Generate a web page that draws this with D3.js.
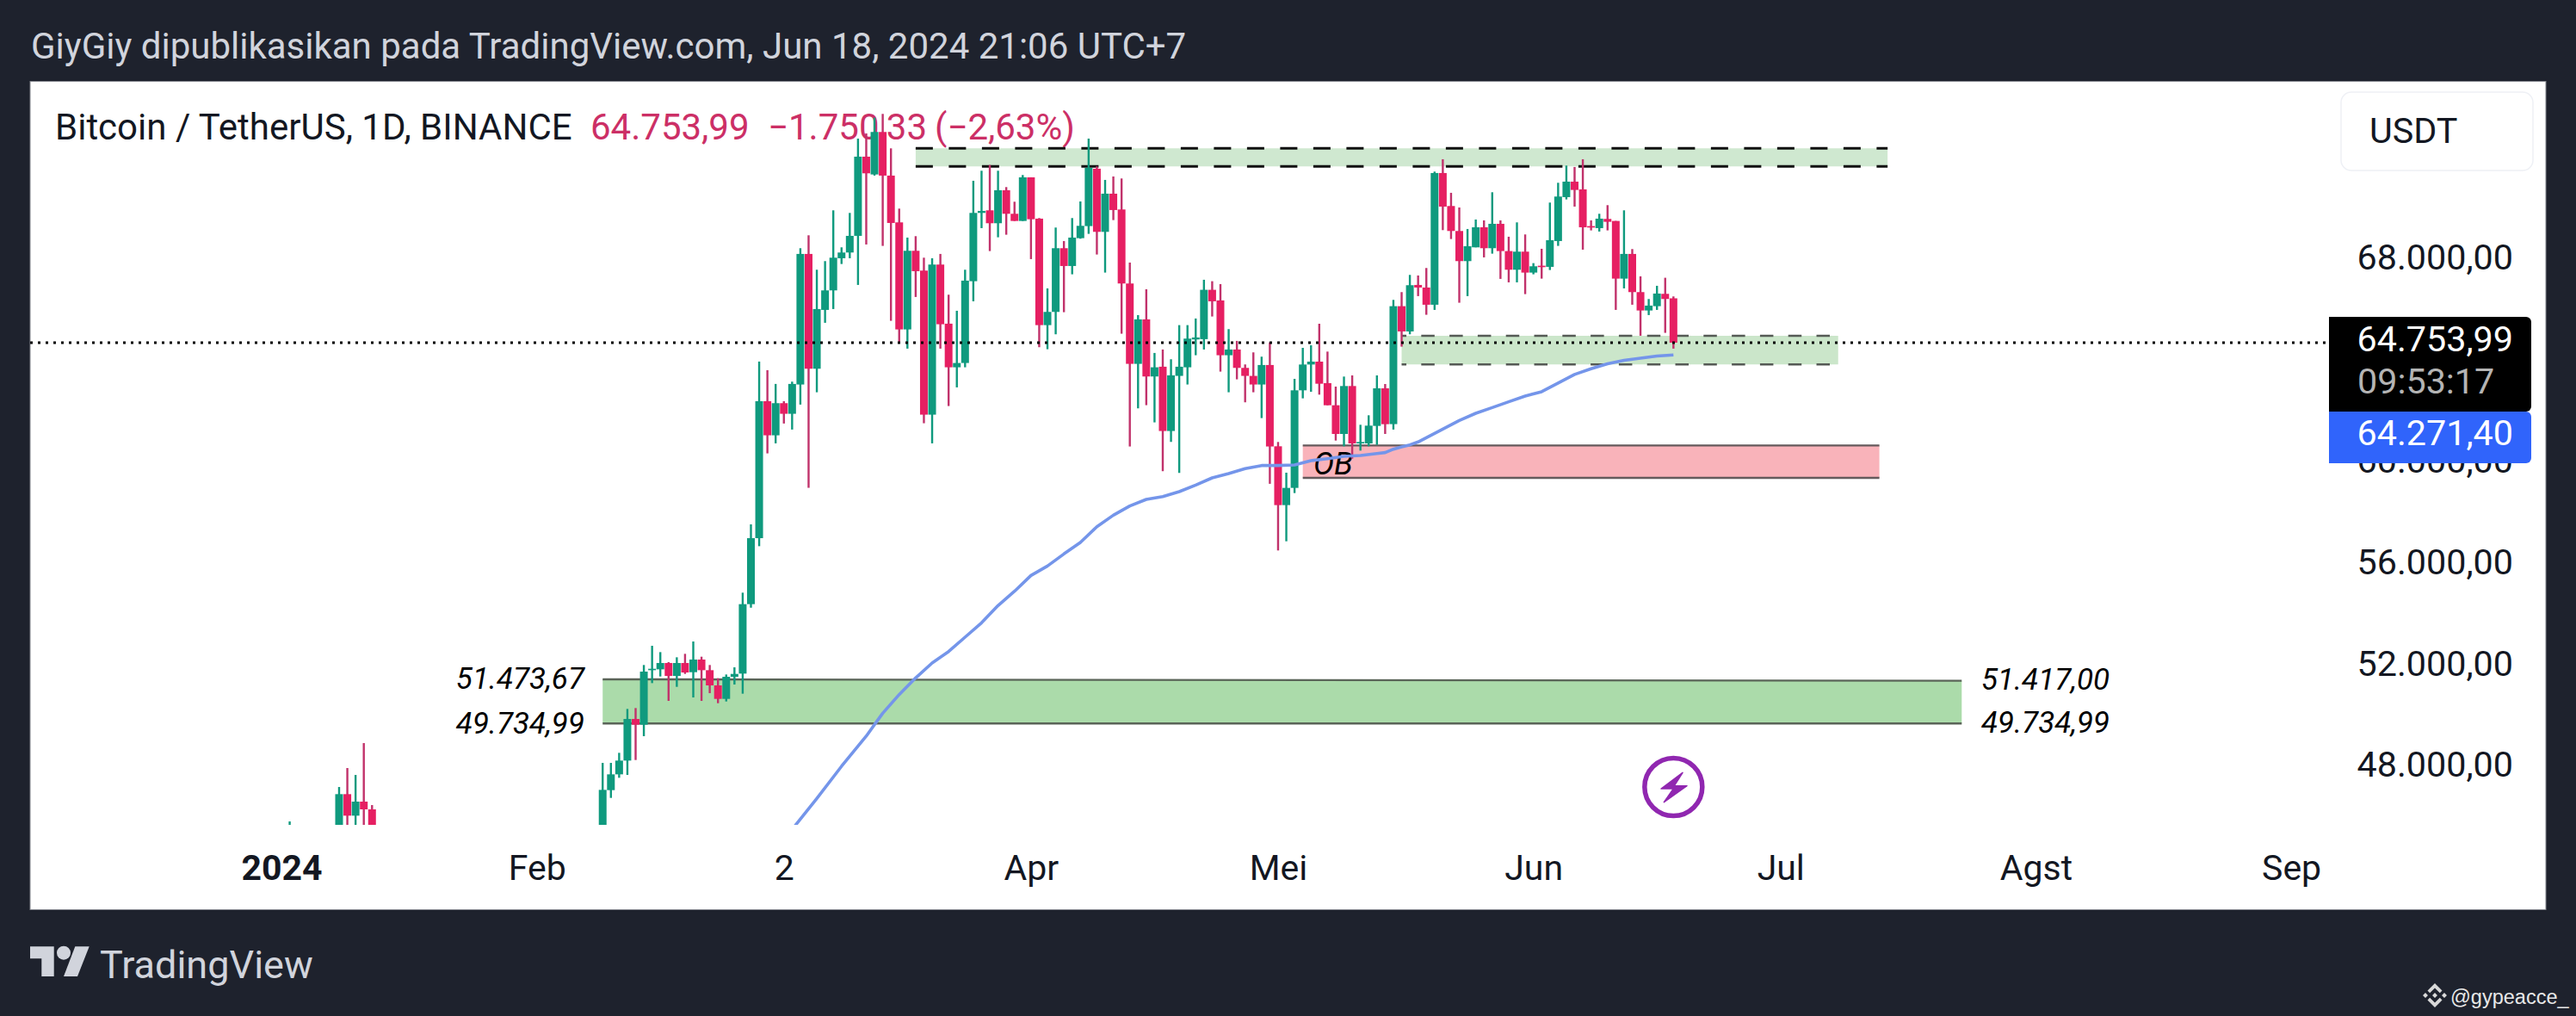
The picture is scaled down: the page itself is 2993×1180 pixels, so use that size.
<!DOCTYPE html>
<html>
<head>
<meta charset="utf-8">
<style>
  html, body { margin: 0; padding: 0; background: #1e222d; overflow: hidden; }
  svg { display: block; font-family: Roboto, sans-serif; }
</style>
<script src="https://cdn.jsdelivr.net/npm/d3@7"></script>
</head>
<body>
<div class="container"></div>
<script>
// daily bars: Jan 2, Jan 8-12, then Feb 9 to Jun 18 2024 (the rest of Jan/Feb is below the visible range)
const utc = d3.utcParse("%Y-%m-%d");
const dates = [utc("2024-01-02")].concat(
  d3.utcDays(utc("2024-01-08"), utc("2024-01-13")),
  d3.utcDays(utc("2024-02-09"), utc("2024-06-19"))
);

const opens = [44200,
  43900,46945,46096,46650,46345,
  45300,47103,47726,48269,49910,49684,51835,51869,52118,51608,52118,51756,52254,51835,51235,50703,51574,51700,54440,57043,62447,
  61100,62368,61949,63104,68255,63727,66047,66817,68085,68311,68968,72092,71390,73066,71345,69500,65277,68379,67598,61915,67836,65504,63783,63953,67179,69873,69975,69466,70768,69839,69556,
  71277,69647,65447,65968,68481,67779,68877,69353,71617,69126,70632,70009,67089,63919,65674,63421,63806,61270,63444,63783,64881,64893,66840,66421,64259,64485,63760,63444,63104,63874,
  60667,58347,59026,62875,63893,64007,63158,62286,61154,63044,60780,60780,61471,62954,61542,66194,65198,67032,66930,66251,71447,70145,69160,67972,68515,69307,68481,69443,68368,67632,68345,
  67519,67790,67745,68764,70496,71107,70802,69353,69273,69636,69556,67281,68255,66749,66024,66194,66681,66504
];
const highs = [45869,
  47227,47975,47703,48959,46514,
  48178,48178,48575,50307,50341,52039,52797,52548,52152,52344,52480,52967,52367,52039,51518,51665,51948,54893,57587,64010,
  63670,63127,62447,63217,68481,68990,67632,67972,69975,68515,69873,72805,73009,73632,73779,72420,70043,68900,68956,68107,68085,68255,66647,66013,67632,71141,71537,71764,71537,70892,70315,71368,
  71277,69670,66896,69296,68764,69670,70326,72805,71707,71175,71311,71232,67915,65843,66862,64349,64485,64100,65447,65447,65708,67236,67179,67066,65289,64825,63896,64372,64202,64768,
  60837,59626,63327,64550,64652,65501,64403,63022,63418,63463,61516,61890,63463,63124,66443,66749,67428,67405,67700,71503,71990,70666,70088,69239,69613,69579,70688,69579,68934,69500,69024,
  67892,68458,70281,71062,71741,71685,71990,69579,69839,70179,69556,69975,68447,67372,66477,66998,67315,66579
];
const lows = [44100,
  43200,44300,44300,45600,41500,
  45200,46797,47590,47703,48292,49231,51325,51586,50624,51178,51688,50759,50624,50929,50533,50601,51269,50908,54300,56726,
  60387,60783,61565,61327,62312,59029,62798,65538,66081,67858,68085,67032,68628,71345,68572,65617,64745,64519,66557,61576,60783,64519,62255,62991,63783,66387,69273,68368,68911,69013,69556,69556,
  68051,64576,64496,65085,65957,67451,68855,69047,68232,67519,69590,65108,60659,62164,62289,61610,59685,60840,59617,63104,64259,64485,65787,63613,62798,63308,62402,62798,61780,59187,
  56558,56920,58822,62558,62818,62705,62286,60893,60667,60180,60497,60667,60724,61154,61327,64598,65085,66591,65855,66047,69194,68843,66330,66591,68515,68119,68266,67270,67134,67134,66670,
  67451,67281,67621,68572,70405,70122,68424,69183,69138,69183,66047,66896,66251,65028,65843,66047,65142,64519
];
const closes = [45000,
  46945,46096,46650,46345,42800,
  47114,47726,48269,49910,49684,51778,51891,52118,51608,52118,51744,52254,51835,51235,50703,51574,51688,54440,57043,62447,
  61100,62368,61949,63127,68255,63727,66081,66817,68107,68311,68968,72092,71435,73066,71345,69477,65277,68379,67575,61915,67836,65481,63783,63953,67202,69873,69953,69466,70768,69839,69556,71277,
  69624,65447,65968,68481,67779,68900,69364,71651,69126,70632,69987,67089,63919,65674,63421,63783,61270,63466,63806,64915,64960,66840,66387,64259,64485,63760,63444,63104,63874,60659,
  58347,59026,62875,63893,64007,63135,62286,61154,63044,60780,60837,61482,62954,61539,66194,65198,67021,66930,66251,71447,70122,69160,67972,68560,69307,68481,69443,68368,67632,68345,67519,
  67768,67734,68798,70519,71107,70779,69307,69296,69647,69522,67281,68255,66749,66024,66217,66692,66477,64753.99
];

// moving average, read every couple of days: day number counted from Jan 1
const maDays = [62,65,68,71,73,75,77,79,81,83,85,87,89,91,93,95,97,99,101,103,105,107,109,111,113,115,117,119,121,123,125,127,129,131,133,134,135,136,137,138,139,141,143,145,147,149,151,153,155,157,159,161,163,165,167,169];
const maValues = [45553,46776,48044,49233,50138,50874,51530,52119,52572,53138,53704,54383,54949,55572,55945,56421,56874,57496,57949,58311,58573,58686,58879,59139,59422,59592,59784,59909,59909,59931,60101,60180,60271,60305,60384,60418,60554,60644,60724,60837,61007,61346,61686,61969,62195,62422,62648,62821,63160,63500,63726,63919,64055,64145,64225,64271.4];

// price zones
const zoneStarts = ["2024-02-09", "2024-03-18", "2024-05-16", "2024-05-04"];
const zoneEnds = ["2024-07-23", "2024-07-14", "2024-07-08", "2024-07-13"];
const zoneTops = [51473.67, 72420, 65028, 60701];
const zoneTopEnds = [51417, 72420, 65028, 60701];
const zoneBottoms = [49734.99, 71707, 63896, 59422];
const zoneFills = ["#abdbaa", "#cfe8d0", "#cbe6ca", "#f9b3ba"];
const zoneLines = ["#5a6458", "#111111", "#555a55", "#655a5c"];
const zoneDashes = [null, "20 18.5", "15.5 17.3", null];
const zoneDashOffsets = [0, 0, 10, 0];
const zoneLineWidths = [2.4, 3, 2.6, 2.4];

// 64.000,00 sits behind the black price tag in the picture, so it is not listed
const priceTicks = [48000, 52000, 56000, 60000, 68000];
const priceFormat = (v) => d3.format(",.2f")(v).replace(/,/g, "#").replace(".", ",").replace(/#/g, ".");

const timeTicks = ["2024-01-01", "2024-02-01", "2024-03-02", "2024-04-01", "2024-05-01", "2024-06-01", "2024-07-01", "2024-08-01", "2024-09-01"];
const timeLabels = ["2024", "Feb", "2", "Apr", "Mei", "Jun", "Jul", "Agst", "Sep"];

const lastPrice = 64753.99;
const maLast = 64271.4;

const width = 2993;
const height = 1180;
const textDark = "#131722";
const textLight = "#d1d4dc";
const upColor = "#0f9a7e";
const downColor = "#e61f62";
const downWick = "#c1326b";
const legendRed = "#cc2f66";

const svg = d3.create("svg").attr("width", width).attr("height", height);
const defs = svg.append("defs");
defs.append("clipPath").attr("id", "plot").append("rect")
  .attr("x", 35).attr("y", 94).attr("width", 2668).attr("height", 864);

svg.append("rect").attr("width", width).attr("height", height).attr("fill", "#1e222d");
svg.append("rect").attr("x", 35).attr("y", 94.5).attr("width", 2923).attr("height", 962)
  .attr("fill", "#fff").attr("stroke", "#83868d").attr("stroke-width", 1);

const x = d3.scaleUtc().domain([utc("2024-01-01"), utc("2024-09-01")]).range([327, 327 + 9.57 * 244]);
const y = d3.scaleLinear().domain([51473.67, lastPrice]).range([789, 398]);

// header and footer
svg.append("text").attr("x", 36).attr("y", 68).attr("fill", textLight)
  .attr("font-size", 42).text("GiyGiy dipublikasikan pada TradingView.com, Jun 18, 2024 21:06 UTC+7");

const logo = svg.append("g").attr("fill", textLight);
logo.append("path").attr("d", "M35 1099.3H62.7V1134H48.3V1113.3H35Z");
logo.append("circle").attr("cx", 74).attr("cy", 1106.7).attr("r", 8);
logo.append("path").attr("d", "M87.3 1099.3H103.7L90 1134H74Z");
svg.append("text").attr("x", 116).attr("y", 1135.5).attr("fill", textLight)
  .attr("font-size", 45).text("TradingView");

const binance = svg.append("g").attr("fill", "#d9d9d9").attr("transform", "translate(2829,1156)");
binance.append("path").attr("d", "M-3 0L0 -3L3 0L0 3ZM-14 0L-11 -3L-8 0L-11 3ZM8 0L11 -3L14 0L11 3Z");
binance.append("path").attr("d", "M0 -14L8.5 -5.5L5.8 -2.8L0 -8.6L-5.8 -2.8L-8.5 -5.5ZM0 14L8.5 5.5L5.8 2.8L0 8.6L-5.8 2.8L-8.5 5.5Z");
svg.append("text").attr("x", 2847).attr("y", 1166).attr("fill", "#e8e8e8")
  .attr("font-family", "'Liberation Sans', sans-serif").attr("font-size", 23.5).text("@gypeacce_");

// legend goes under the candles, one wick runs through it in the picture
const legendFont = 42;
svg.append("text").attr("x", 64).attr("y", 162).attr("fill", textDark).attr("font-size", legendFont)
  .text("Bitcoin / TetherUS, 1D, BINANCE");
svg.append("text").attr("x", 686).attr("y", 162).attr("fill", legendRed).attr("font-size", legendFont)
  .text(priceFormat(lastPrice));
svg.append("text").attr("x", 892).attr("y", 162).attr("fill", legendRed).attr("font-size", legendFont)
  .text("\u22121.750,33");
svg.append("text").attr("x", 1086).attr("y", 162).attr("fill", legendRed).attr("font-size", legendFont)
  .text("(\u22122,63%)");

const plot = svg.append("g").attr("clip-path", "url(#plot)");

// zones
const zoneArea = d3.area().x((d) => x(d.date)).y0((d) => y(d.bottom)).y1((d) => y(d.top));
const zoneTopLine = d3.line().x((d) => x(d.date)).y((d) => y(d.top));
const zoneBottomLine = d3.line().x((d) => x(d.date)).y((d) => y(d.bottom));
zoneStarts.forEach((start, i) => {
  const pts = [
    { date: utc(start), top: zoneTops[i], bottom: zoneBottoms[i] },
    { date: utc(zoneEnds[i]), top: zoneTopEnds[i], bottom: zoneBottoms[i] },
  ];
  plot.append("path").attr("d", zoneArea(pts)).attr("fill", zoneFills[i]);
  [zoneTopLine, zoneBottomLine].forEach((ln) => {
    plot.append("path").attr("d", ln(pts)).attr("fill", "none")
      .attr("stroke", zoneLines[i]).attr("stroke-width", zoneLineWidths[i])
      .attr("stroke-dasharray", zoneDashes[i])
      .attr("stroke-dashoffset", zoneDashOffsets[i]);
  });
});

plot.append("text").attr("x", 1526).attr("y", 551).attr("fill", "#000")
  .attr("font-size", 36).attr("font-style", "italic").text("OB");

// candles
const candles = plot.append("g").selectAll("g").data(dates).join("g");
const isUp = (i) => closes[i] >= opens[i];
candles.append("rect")
  .attr("x", (d) => x(d) - 1.2)
  .attr("width", 2.4)
  .attr("y", (d, i) => y(highs[i]))
  .attr("height", (d, i) => y(lows[i]) - y(highs[i]))
  .attr("fill", (d, i) => (isUp(i) ? upColor : downWick));
candles.append("rect")
  .attr("x", (d) => x(d) - 4.5)
  .attr("width", 9)
  .attr("y", (d, i) => y(Math.max(opens[i], closes[i])))
  .attr("height", (d, i) => Math.max(1.5, Math.abs(y(opens[i]) - y(closes[i]))))
  .attr("fill", (d, i) => (isUp(i) ? upColor : downColor));

// moving average
const jan1 = utc("2024-01-01");
const maLine = d3.line()
  .x((d) => x(d3.utcDay.offset(jan1, d)))
  .y((d, i) => y(maValues[i]));
plot.append("path").attr("d", maLine(maDays)).attr("fill", "none")
  .attr("stroke", "#7495ea").attr("stroke-width", 3.6).attr("stroke-linejoin", "round");

// zone price labels
const zoneLabelLeft = [[51473.67, 800], [49734.99, 852]];
const zoneLabelRight = [[51417, 801], [49734.99, 851]];
svg.append("g").selectAll("text").data(zoneLabelLeft).join("text")
  .attr("x", 679).attr("y", (d) => d[1]).attr("text-anchor", "end")
  .attr("font-size", 35).attr("font-style", "italic").attr("fill", "#000")
  .text((d) => priceFormat(d[0]));
svg.append("g").selectAll("text").data(zoneLabelRight).join("text")
  .attr("x", 2302).attr("y", (d) => d[1])
  .attr("font-size", 35).attr("font-style", "italic").attr("fill", "#000")
  .text((d) => priceFormat(d[0]));

// last price line
svg.append("line").attr("x1", 35).attr("x2", 2703).attr("y1", y(lastPrice)).attr("y2", y(lastPrice))
  .attr("stroke", "#000").attr("stroke-width", 3).attr("stroke-dasharray", "3 6");

// axes
const yAxis = d3.axisRight(y).tickValues(priceTicks).tickSize(0).tickFormat(priceFormat);
svg.append("g").attr("transform", "translate(2920,0)").call(yAxis)
  .call((g) => g.select(".domain").remove())
  .call((g) => g.selectAll("text")
    .attr("x", 0).attr("dy", 10.5).attr("text-anchor", "end")
    .attr("font-family", "Roboto, sans-serif").attr("font-size", 41.3).attr("fill", textDark));

const xAxis = d3.axisBottom(x).tickValues(timeTicks.map(utc)).tickSize(0)
  .tickFormat((d, i) => timeLabels[i]);
svg.append("g").attr("transform", "translate(0,1022)").call(xAxis)
  .call((g) => g.select(".domain").remove())
  .call((g) => g.selectAll("text")
    .attr("y", 0).attr("dy", 0)
    .attr("font-family", "Roboto, sans-serif").attr("font-size", 41).attr("fill", textDark)
    .attr("font-weight", (d, i) => (i === 0 ? 700 : 400)));

// currency button
svg.append("rect").attr("x", 2720).attr("y", 107).attr("width", 223).attr("height", 91).attr("rx", 12)
  .attr("fill", "#fff").attr("stroke", "#eef0f5").attr("stroke-width", 1.5);
svg.append("text").attr("x", 2753).attr("y", 166).attr("fill", textDark).attr("font-size", 41.3).text("USDT");

// price tags
svg.append("path").attr("d", "M2706 368H2935a6 6 0 0 1 6 6V472a6 6 0 0 1 -6 6H2706Z").attr("fill", "#000");
svg.append("path").attr("d", "M2706 478H2935a6 6 0 0 1 6 6V532a6 6 0 0 1 -6 6H2706Z").attr("fill", "#3064fb");
svg.append("text").attr("x", 2920).attr("y", 408).attr("text-anchor", "end").attr("fill", "#fff")
  .attr("font-size", 41.3).text(priceFormat(lastPrice));
svg.append("text").attr("x", 2739).attr("y", 457).attr("fill", "#b4b4b4")
  .attr("font-size", 41.3).text("09:53:17");
svg.append("text").attr("x", 2920).attr("y", 517).attr("text-anchor", "end").attr("fill", "#fff")
  .attr("font-size", 41.3).text(priceFormat(maLast));

// lightning marker under the last bar
const bolt = svg.append("g").attr("transform", `translate(${x(utc("2024-06-18"))},914)`);
bolt.append("circle").attr("r", 33.5).attr("fill", "#fff").attr("stroke", "#9027b0").attr("stroke-width", 5.5);
bolt.append("path").attr("d", "M10.7 -16.7L-14.3 2H0L-11 17.7L15.7 -1.3H1Z").attr("fill", "#9027b0")
  .attr("stroke", "#9027b0").attr("stroke-width", 1.5).attr("stroke-linejoin", "round");

document.querySelector(".container").append(svg.node());
</script>
</body>
</html>
